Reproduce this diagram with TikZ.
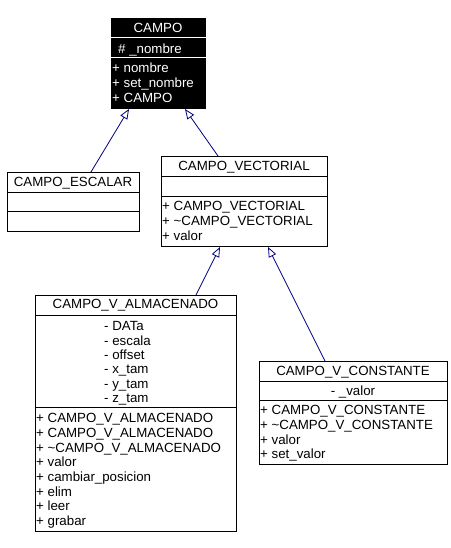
\documentclass[tikz,border=0pt]{standalone}
\usepackage{fontspec}
\setmainfont{Liberation Sans}
\usetikzlibrary{arrows.meta,calc}
\definecolor{navy}{RGB}{0,0,128}
\begin{document}
\begin{tikzpicture}[x=1pt,y=-1pt,
  box/.style={draw=black, line width=1pt, inner sep=0pt, anchor=north west, fill=white},
  txt/.style={font=\fontsize{13.3}{14.7}\selectfont, inner sep=0pt, anchor=base west},
  ttl/.style={font=\fontsize{13.3}{14.7}\selectfont, inner sep=0pt, anchor=base},
  sep/.style={draw=black, line width=1pt},
  gen/.style={draw=navy, line width=0.8pt, -{Triangle[open,length=10pt,width=8pt]}}
]
\useasboundingbox[fill=white] (0,0) rectangle (450,548);

% CAMPO
\node[box, fill=black, minimum width=94pt, minimum height=90pt] (campo) at (111,18) {};
\draw[sep, draw=white] (campo.west |- 0,37.5) -- (campo.east |- 0,37.5);
\draw[sep, draw=white] (campo.west |- 0,58) -- (campo.east |- 0,58);
\node[ttl, text=white] (campoT) at (158,32.5) {CAMPO};
\node[txt, text=white] (campoA) at (118,53.5) {\# \_nombre};
\foreach \t [count=\i from 0] in {+ nombre, + set\_nombre, + CAMPO}
  \node[txt, text=white] (campoM\i) at (112,73+14.7*\i) {\t};

% CAMPO_ESCALAR
\node[box, minimum width=132pt, minimum height=59pt] (esc) at (7,172) {};
\draw[sep] (esc.west |- 0,192) -- (esc.east |- 0,192);
\draw[sep] (esc.west |- 0,211) -- (esc.east |- 0,211);
\node[ttl] (escT) at (73,186.7) {CAMPO\_ESCALAR};

% CAMPO_VECTORIAL
\node[box, minimum width=166pt, minimum height=90pt] (vect) at (161,156) {};
\draw[sep] (vect.west |- 0,176) -- (vect.east |- 0,176);
\draw[sep] (vect.west |- 0,196) -- (vect.east |- 0,196);
\node[ttl] (vectT) at (244,170.7) {CAMPO\_VECTORIAL};
\foreach \t [count=\i from 0] in {+ CAMPO\_VECTORIAL, + \textasciitilde CAMPO\_VECTORIAL, + valor}
  \node[txt] (vectM\i) at (162,210.7+14.7*\i) {\t};

% CAMPO_V_ALMACENADO
\node[box, minimum width=201pt, minimum height=236pt] (alm) at (35,295) {};
\draw[sep] (alm.west |- 0,315) -- (alm.east |- 0,315);
\draw[sep] (alm.west |- 0,407) -- (alm.east |- 0,407);
\node[ttl] (almT) at (135.5,308.7) {CAMPO\_V\_ALMACENADO};
\foreach \t [count=\i from 0] in {- DATa, - escala, - offset, - x\_tam, - y\_tam, - z\_tam}
  \node[txt] (almA\i) at (104,330.7+14.4*\i) {\t};
\foreach \t [count=\i from 0] in {+ CAMPO\_V\_ALMACENADO, + CAMPO\_V\_ALMACENADO, + \textasciitilde CAMPO\_V\_ALMACENADO, + valor, + cambiar\_posicion, + elim, + leer, + grabar}
  \node[txt] (almM\i) at (36,422.7+14.7*\i) {\t};

% CAMPO_V_CONSTANTE
\node[box, minimum width=188pt, minimum height=103pt] (cons) at (259,361) {};
\draw[sep] (cons.west |- 0,381) -- (cons.east |- 0,381);
\draw[sep] (cons.west |- 0,400) -- (cons.east |- 0,400);
\node[ttl] (consT) at (353,375.7) {CAMPO\_V\_CONSTANTE};
\node[ttl] (consA) at (353,395.7) {- \_valor};
\foreach \t [count=\i from 0] in {+ CAMPO\_V\_CONSTANTE, + \textasciitilde CAMPO\_V\_CONSTANTE, + valor, + set\_valor}
  \node[txt] (consM\i) at (260,414.7+14.7*\i) {\t};

% generalizations
\draw[gen] ([xshift=84pt]esc.north west) -- ([xshift=18pt]campo.south west);
\draw[gen] ([xshift=57pt]vect.north west) -- ([xshift=74pt]campo.south west);
\draw[gen] ([xshift=161pt]alm.north west) -- ([xshift=59pt]vect.south west);
\draw[gen] ([xshift=66pt]cons.north west) -- ([xshift=107pt]vect.south west);
\end{tikzpicture}
\end{document}
